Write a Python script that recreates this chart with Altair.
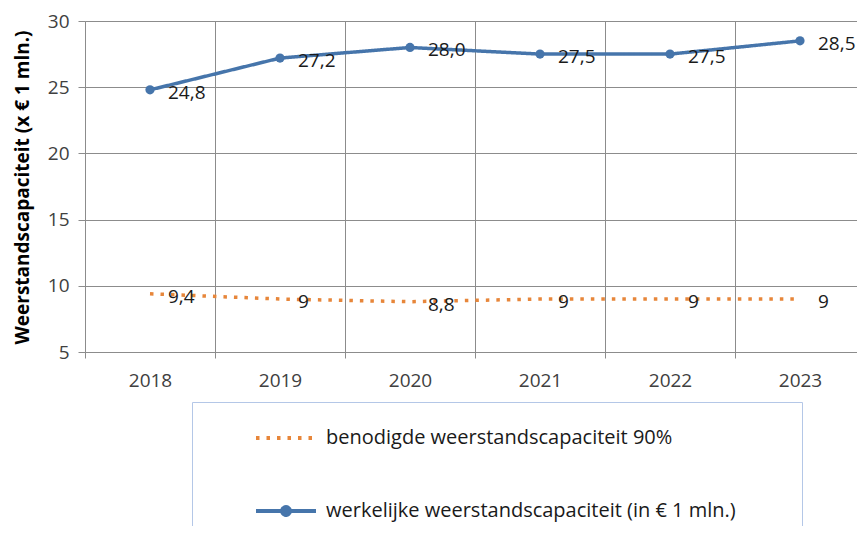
import altair as alt
import pandas as pd

years = ["2018", "2019", "2020", "2021", "2022", "2023"]
required = [9.4, 9.0, 8.8, 9.0, 9.0, 9.0]
required_labels = ["9,4", "9", "8,8", "9", "9", "9"]
actual = [24.8, 27.2, 28.0, 27.5, 27.5, 28.5]
actual_labels = ["24,8", "27,2", "28,0", "27,5", "27,5", "28,5"]
series_names = ["benodigde weerstandscapaciteit 90%",
                "werkelijke weerstandscapaciteit (in € 1 mln.)"]
y_title = "Weerstandscapaciteit  (x € 1 mln.)"
y_ticks = [5, 10, 15, 20, 25, 30]

ORANGE = "#E7863A"
BLUE = "#4675AB"
GRID = "#8C8C8C"
FONT = "Open Sans"

rows = []
for yr, v, lab in zip(years, required, required_labels):
    rows.append({"year": yr, "series": series_names[0], "value": v, "label": lab})
for yr, v, lab in zip(years, actual, actual_labels):
    rows.append({"year": yr, "series": series_names[1], "value": v, "label": lab})
df = pd.DataFrame(rows)

x_enc = alt.X("year:N", sort=years,
              scale=alt.Scale(type="band", paddingInner=0, paddingOuter=0),
              axis=alt.Axis(title=None, tickBand="extent", grid=True, labelAngle=0,
                            tickSize=6, labelPadding=13, domain=False))
y_enc = alt.Y("value:Q",
              scale=alt.Scale(domain=[5, 30], nice=False, zero=False),
              axis=alt.Axis(values=y_ticks, title=y_title, tickSize=7, labelPadding=9,
                            titleFont=FONT, titleFontWeight="bold", titleFontSize=19,
                            titleColor="#000000", titleAngle=-90, titleX=-63, titleY=166,
                            titleAlign="center", titleBaseline="middle", domain=True))

color_scale = alt.Scale(domain=series_names, range=[ORANGE, BLUE])
dash_scale = alt.Scale(domain=series_names, range=[[3.5, 7], [1, 0]])
shape_scale = alt.Scale(
    domain=series_names,
    range=["M-1,0L1,0",
           "M-1,0L1,0M-0.13,0A0.13,0.13,0,1,1,0.13,0A0.13,0.13,0,1,1,-0.13,0Z"
           "M-0.06,0A0.06,0.06,0,1,1,0.06,0A0.06,0.06,0,1,1,-0.06,0Z"])

legend = alt.Legend(title=" ")

lines = alt.Chart(df).mark_line(strokeWidth=3.5).encode(
    x=x_enc, y=y_enc,
    color=alt.Color("series:N", scale=color_scale, legend=legend),
    strokeDash=alt.StrokeDash("series:N", scale=dash_scale, legend=legend),
)

points = alt.Chart(df).transform_filter(
    alt.datum.series == series_names[1]
).mark_circle(size=85, opacity=1, color=BLUE).encode(x=x_enc, y=y_enc)

labels = alt.Chart(df).mark_text(
    align="left", baseline="middle", dx=18, dy=3, fontSize=19, font=FONT, color="#1A1A1A"
).encode(x=x_enc, y=y_enc, text="label:N")

legend_helper = alt.Chart(df).transform_filter("datum.value < 0").mark_point(
    filled=False, opacity=1
).encode(
    x=x_enc, y=y_enc,
    color=alt.Color("series:N", scale=color_scale, legend=legend),
    shape=alt.Shape("series:N", scale=shape_scale, legend=legend),
)

chart = alt.layer(lines, points, labels, legend_helper).properties(
    width=780, height=331,
    autosize=alt.AutoSizeParams(type="none"),
    padding={"left": 77, "top": 13, "right": -8, "bottom": 174},
).configure_view(
    stroke=None
).configure_axis(
    labelFont=FONT, labelFontSize=19, labelColor="#404040",
    gridColor=GRID, tickColor=GRID, domainColor=GRID, gridWidth=1,
).configure_legend(
    orient="none", legendX=107, legendY=381,
    padding=4, strokeColor="#B4C7E7", fillColor="#FFFFFF",
    symbolSize=3600, symbolStrokeWidth=4, symbolOffset=58, symbolOpacity=1,
    labelFont=FONT, labelFontSize=20, labelColor="#1A1A1A", labelOffset=8,
    labelLimit=800, rowPadding=31, titleOrient="right", titlePadding=62,
    titleFontSize=10,
)

chart.save("out.html", embed_options={"renderer": "svg", "actions": False})
